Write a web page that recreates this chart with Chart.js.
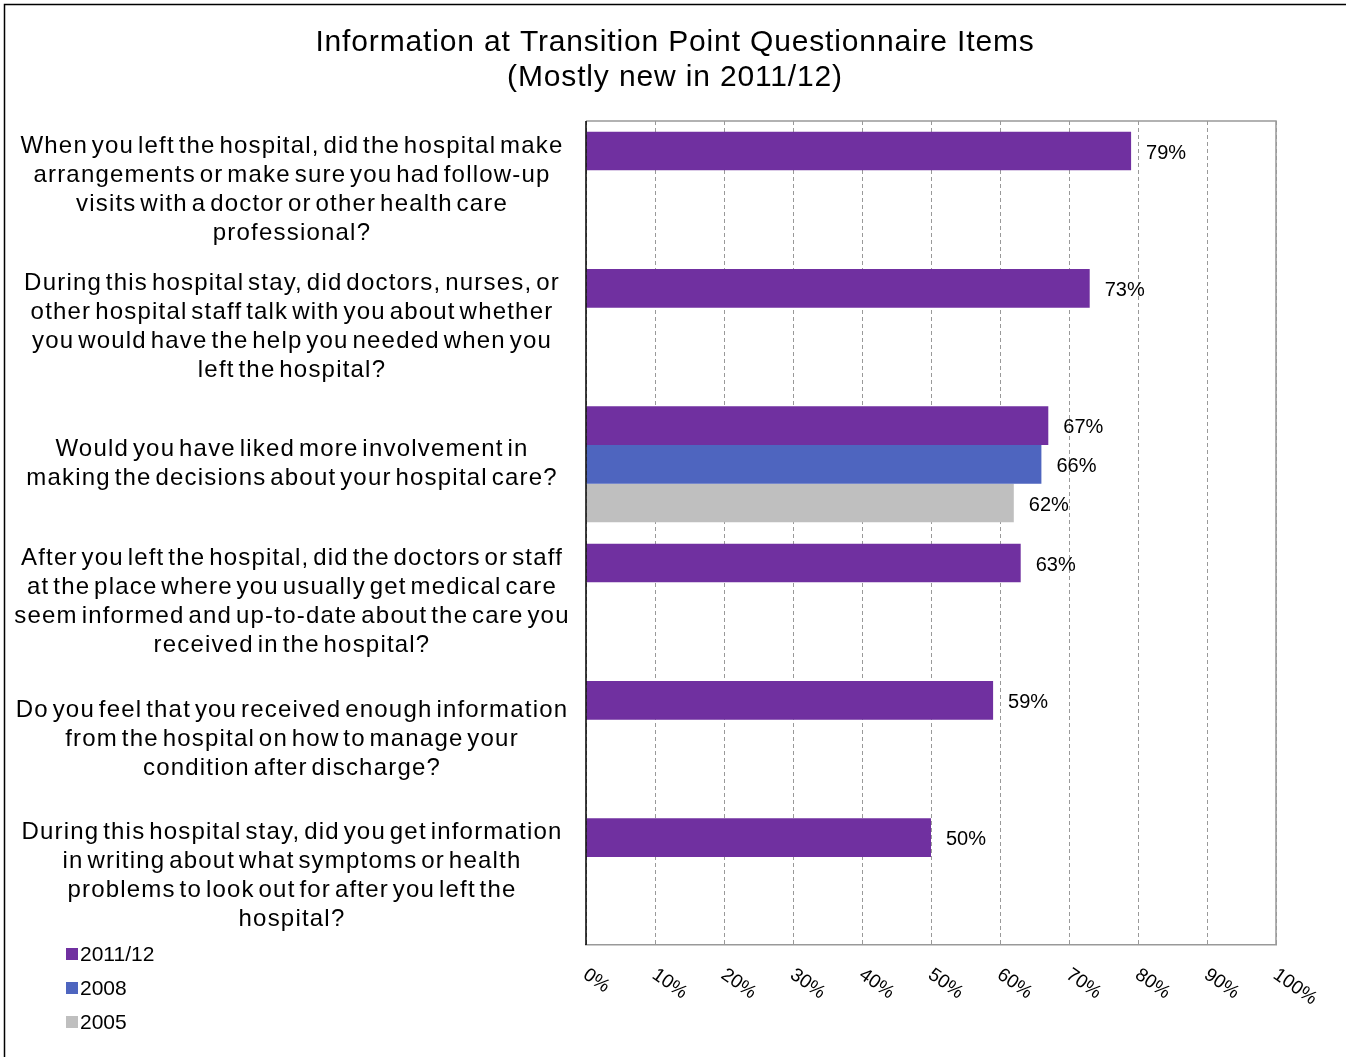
<!DOCTYPE html>
<html>
<head>
<meta charset="utf-8">
<style>
  html, body { margin: 0; padding: 0; background: #fff; overflow: hidden; }
  #wrap { position: relative; width: 1346px; height: 1057px; }
</style>
<script src="https://cdn.jsdelivr.net/npm/chart.js@4/dist/chart.umd.min.js"></script>
</head>
<body>
<div id="wrap"><canvas id="c" width="1346" height="1057"></canvas></div>
<script>
const titleLines = ["Information at Transition Point Questionnaire Items", "(Mostly new in 2011/12)"];
const categories = [
  ["When you left the hospital, did the hospital make", "arrangements or make sure you had follow-up", "visits with a doctor or other health care", "professional?"],
  ["During this hospital stay, did doctors, nurses, or", "other hospital staff talk with you about whether", "you would have the help you needed when you", "left the hospital?"],
  ["Would you have liked more involvement in", "making the decisions about your hospital care?"],
  ["After you left the hospital, did the doctors or staff", "at the place where you usually get medical care", "seem informed and up-to-date about the care you", "received in the hospital?"],
  ["Do you feel that you received enough information", "from the hospital on how to manage your", "condition after discharge?"],
  ["During this hospital stay, did you get information", "in writing about what symptoms or health", "problems to look out for after you left the", "hospital?"]
];
const seriesNames = ["2011/12", "2008", "2005"];
const values2011 = [79, 73, 67, 63, 59, 50];
const values2008 = [null, null, 66, null, null, null];
const values2005 = [null, null, 62, null, null, null];
const seriesColors = ["#7030A0", "#4E65BF", "#BFBFBF"];
const tickValues = [0, 10, 20, 30, 40, 50, 60, 70, 80, 90, 100];

const FONT = "'Liberation Sans', Arial, sans-serif";

const drawPlugin = {
  id: 'customDraw',
  afterDatasetsDraw(chart) {
    const ctx = chart.ctx;
    const ca = chart.chartArea;
    const xs = chart.scales.x, ys = chart.scales.y;
    ctx.save();
    // outer frame (left and top)
    ctx.strokeStyle = '#000';
    ctx.lineWidth = 1.5;
    ctx.beginPath();
    ctx.moveTo(4.5, 1057); ctx.lineTo(4.5, 4.5); ctx.lineTo(1346, 4.5);
    ctx.stroke();
    // plot top and right border
    ctx.strokeStyle = '#999';
    ctx.lineWidth = 1.5;
    ctx.beginPath();
    ctx.moveTo(ca.left, ca.top); ctx.lineTo(ca.right, ca.top); ctx.lineTo(ca.right, ca.bottom);
    ctx.stroke();
    // left axis black
    ctx.strokeStyle = '#000';
    ctx.lineWidth = 1.5;
    ctx.beginPath();
    ctx.moveTo(ca.left, ca.top); ctx.lineTo(ca.left, ca.bottom);
    ctx.stroke();

    // title
    ctx.fillStyle = '#000';
    ctx.font = '30px ' + FONT;
    ctx.letterSpacing = '0.85px';
    ctx.textAlign = 'center';
    ctx.textBaseline = 'middle';
    titleLines.forEach((t, i) => ctx.fillText(t, 675, 43 + i * 35));

    // category labels
    ctx.font = '24px ' + FONT;
    ctx.letterSpacing = '1.2px';
    ctx.wordSpacing = '-4px';
    categories.forEach((lines, i) => {
      const cy = ys.getPixelForValue(i);
      const lh = 29;
      const start = cy - (lines.length - 1) * lh / 2;
      lines.forEach((ln, j) => ctx.fillText(ln, 292, start + j * lh));
    });
    ctx.letterSpacing = '0px';
    ctx.wordSpacing = '0px';

    // data labels
    ctx.font = '20px ' + FONT;
    ctx.textAlign = 'left';
    chart.data.datasets.forEach((ds, di) => {
      const meta = chart.getDatasetMeta(di);
      meta.data.forEach((bar, i) => {
        const v = ds.data[i];
        if (v === null || v === undefined) return;
        ctx.fillText(v + '%', bar.x + 15, bar.y + 2);
      });
    });

    // rotated x tick labels
    ctx.font = '19px ' + FONT;
    ctx.textBaseline = 'middle';
    tickValues.forEach(v => {
      const x = xs.getPixelForValue(v);
      ctx.save();
      ctx.translate(x - 1, 973);
      ctx.rotate(35 * Math.PI / 180);
      ctx.textAlign = 'left';
      ctx.fillText(v + '%', 0, 0);
      ctx.restore();
    });

    // legend
    ctx.font = '21px ' + FONT;
    ctx.textAlign = 'left';
    seriesNames.forEach((n, i) => {
      const y = 954 + i * 34;
      ctx.fillStyle = seriesColors[i];
      ctx.fillRect(66, y - 6, 12, 12);
      ctx.fillStyle = '#000';
      ctx.fillText(n, 80, y + 1);
    });
    ctx.restore();
  }
};

new Chart(document.getElementById('c'), {
  type: 'bar',
  data: {
    labels: categories,
    datasets: [
      { label: seriesNames[0], data: values2011, backgroundColor: seriesColors[0] },
      { label: seriesNames[1], data: values2008, backgroundColor: seriesColors[1] },
      { label: seriesNames[2], data: values2005, backgroundColor: seriesColors[2] }
    ]
  },
  options: {
    indexAxis: 'y',
    responsive: false,
    animation: false,
    skipNull: false,
    layout: { padding: { left: 586, top: 121, right: 70, bottom: 112 } },
    datasets: { bar: { categoryPercentage: 0.845, barPercentage: 1.0 } },
    plugins: { legend: { display: false }, title: { display: false }, tooltip: { enabled: false } },
    scales: {
      x: {
        min: 0, max: 100,
        ticks: { display: false, stepSize: 10 },
        grid: { color: '#999', lineWidth: 1, drawTicks: false, tickLength: 0 },
        border: { display: true, color: '#999', width: 1.5, dash: [4, 3] }
      },
      y: {
        ticks: { display: false },
        grid: { display: false, drawTicks: false },
        border: { display: false }
      }
    }
  },
  plugins: [drawPlugin]
});
</script>
</body>
</html>
